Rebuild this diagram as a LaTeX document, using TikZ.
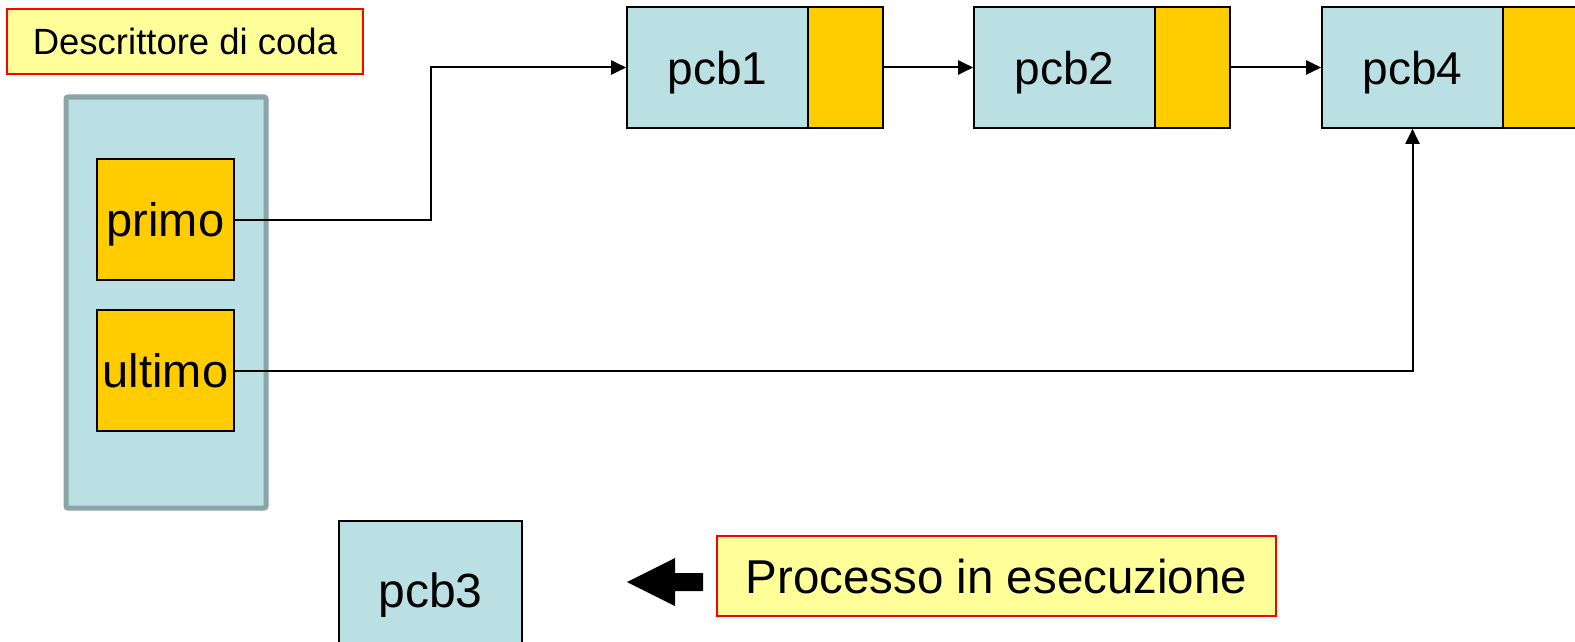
\documentclass[tikz,border=0pt]{standalone}
\usepackage{fontspec}
\setmainfont{Liberation Sans}
\usetikzlibrary{arrows.meta}
\definecolor{pcbblue}{HTML}{BBE0E3}
\definecolor{ptryel}{HTML}{FFCC00}
\definecolor{lblyel}{HTML}{FFFF99}
\definecolor{contgray}{RGB}{139,164,168}
\tikzset{
  box/.style={draw=black, line width=1.6pt, inner sep=0pt, text depth=0pt, anchor=center},
  pcbbox/.style={box, fill=pcbblue, minimum width=181pt, minimum height=121pt, font=\fontsize{46}{50}\selectfont},
  ptrbox/.style={box, fill=ptryel, minimum width=75pt, minimum height=121pt},
  fieldbox/.style={box, fill=ptryel, minimum width=137pt, minimum height=121pt, font=\fontsize{47}{52}\selectfont},
  label/.style={draw=red, line width=2pt, fill=lblyel, inner sep=0pt, text depth=0pt},
  conn/.style={line width=2pt, -{Triangle[length=15pt,width=14pt]}},
  plain/.style={line width=2pt}
}
\begin{document}
\begin{tikzpicture}[x=1pt,y=-1pt]
\useasboundingbox (0,0) rectangle (1575,642);
\clip (0,0) rectangle (1575,642);
% descriptor label
\node[label, minimum width=356pt, minimum height=65pt, font=\fontsize{36.5}{40}\selectfont] (desc) at (185,41.5) {Descrittore di coda};
% container
\node[draw=contgray, line width=5pt, fill=pcbblue, rounded corners=2pt, minimum width=200pt, minimum height=411pt, inner sep=0pt] (cont) at (166,302.5) {};
\node[fieldbox] (primo) at (165.5,219.5) {primo};
\node[fieldbox] (ultimo) at (165.5,370.5) {ultimo};
% pcb list
\node[pcbbox] (pcb1) at (717.5,67.5) {pcb1};
\node[ptrbox] (ptr1) at (845.5,67.5) {};
\node[pcbbox] (pcb2) at (1064.5,67.5) {pcb2};
\node[ptrbox] (ptr2) at (1192.5,67.5) {};
\node[pcbbox] (pcb4) at (1412.5,67.5) {pcb4};
\node[ptrbox] (ptr4) at (1540.5,67.5) {};
% pcb3
\node[pcbbox, minimum width=183pt, minimum height=138pt, font=\fontsize{48}{52}\selectfont] (pcb3) at (430.5,590) {pcb3};
% running process label
\node[label, minimum width=559pt, minimum height=80pt, font=\fontsize{47.5}{52}\selectfont] (proc) at (996.5,576) {Processo in esecuzione};
% block arrow
\fill[black] (703,573) -- (675,573) -- (675,558) -- (627,582) -- (675,606) -- (675,591) -- (703,591) -- cycle;
% connectors
\draw[conn] (primo.east) -- ++(196,0) |- (pcb1.west);
\draw[conn] (ptr1.east) -- (pcb2.west);
\draw[conn] (ptr2.east) -- (pcb4.west);
\draw[conn] (ultimo.east) -| (pcb4.south);
\end{tikzpicture}
\end{document}
